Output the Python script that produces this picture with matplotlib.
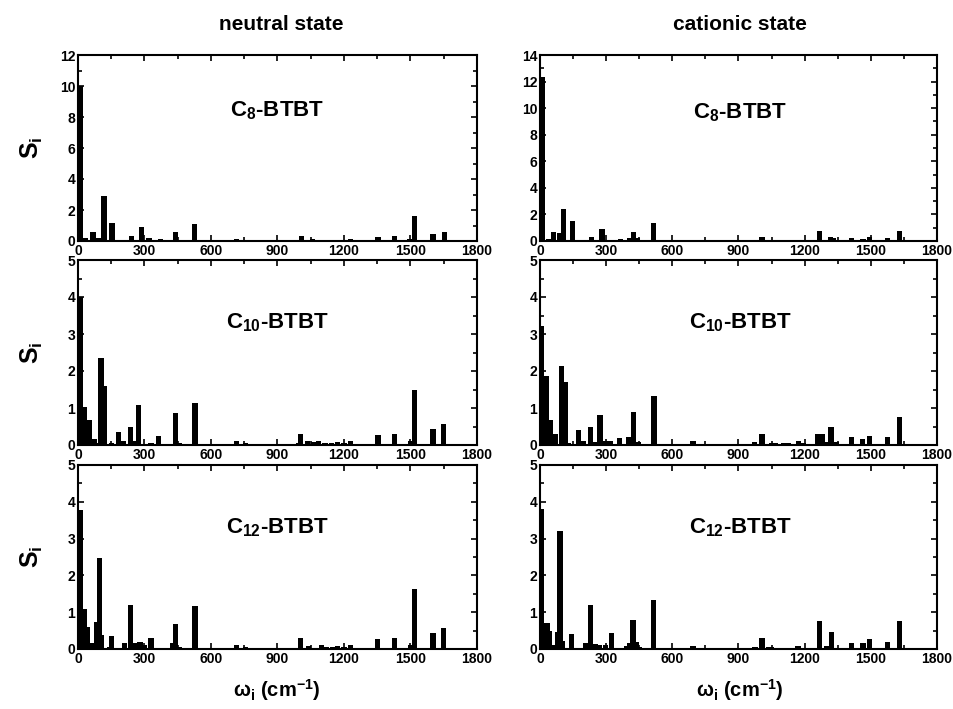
import matplotlib
matplotlib.use("Agg")
import matplotlib.pyplot as plt
from matplotlib.ticker import MultipleLocator

plt.rcParams['font.family'] = ['Liberation Sans', 'DejaVu Sans']
plt.rcParams['font.weight'] = 'bold'
plt.rcParams['mathtext.fontset'] = 'custom'
plt.rcParams['mathtext.rm'] = 'Liberation Sans:bold'
plt.rcParams['mathtext.bf'] = 'Liberation Sans:bold'
plt.rcParams['mathtext.it'] = 'Liberation Sans:bold'
plt.rcParams['mathtext.default'] = 'bf'

# ---------------- data ----------------
# C8-BTBT neutral
c8_neu_w = [12, 35, 68, 92, 117, 154, 196, 241, 286, 321, 372, 440, 527, 715,
            1008, 1058, 1145, 1170, 1229, 1354, 1429, 1495, 1518, 1602, 1652]
c8_neu_s = [10.0, 0.2, 0.55, 0.2, 2.9, 1.18, 0.05, 0.32, 0.9, 0.17, 0.13, 0.58, 1.12, 0.13,
            0.32, 0.13, 0.04, 0.04, 0.1, 0.27, 0.3, 0.1, 1.6, 0.45, 0.55]
# C8-BTBT cationic
c8_cat_w = [10, 39, 62, 90, 106, 148, 185, 232, 281, 300, 364, 405, 424, 440, 516, 700,
            990, 1006, 1045, 1120, 1170, 1268, 1290, 1316, 1330, 1412, 1465, 1495, 1575, 1630]
c8_cat_s = [12.37, 0.15, 0.65, 0.6, 2.43, 1.5, 0.05, 0.3, 0.9, 0.1, 0.12, 0.25, 0.68, 0.2, 1.33, 0.05,
            0.05, 0.3, 0.08, 0.03, 0.04, 0.78, 0.1, 0.33, 0.25, 0.22, 0.18, 0.3, 0.22, 0.75]
# C10-BTBT neutral
c10_neu_w = [12, 30, 50, 73, 85, 104, 117, 150, 184, 205, 237, 260, 274, 330, 362, 440, 455, 528,
             715, 755, 995, 1005, 1035, 1065, 1086, 1115, 1143, 1172, 1200, 1228, 1354, 1428,
             1500, 1518, 1601, 1650]
c10_neu_s = [4.0, 1.04, 0.68, 0.16, 0.05, 2.34, 1.6, 0.05, 0.34, 0.1, 0.48, 0.1, 1.08, 0.05, 0.25,
             0.87, 0.05, 1.13, 0.12, 0.05, 0.05, 0.3, 0.1, 0.07, 0.11, 0.06, 0.06, 0.08, 0.05, 0.1,
             0.26, 0.3, 0.1, 1.48, 0.43, 0.57]
# C10-BTBT cationic
c10_cat_w = [7, 27, 47, 68, 98, 113, 130, 173, 196, 230, 250, 272, 295, 318, 361, 404, 424, 445,
             517, 694, 973, 1006, 1050, 1065, 1105, 1125, 1172, 1195, 1260, 1280, 1300, 1319, 1345,
             1411, 1463, 1494, 1577, 1630]
c10_cat_s = [3.22, 1.87, 0.68, 0.3, 2.14, 1.71, 0.05, 0.4, 0.12, 0.48, 0.08, 0.81, 0.12, 0.12, 0.2,
             0.21, 0.88, 0.08, 1.32, 0.1, 0.08, 0.3, 0.05, 0.05, 0.05, 0.05, 0.1, 0.05, 0.29, 0.3,
             0.08, 0.48, 0.07, 0.21, 0.17, 0.24, 0.21, 0.75]
# C12-BTBT neutral
c12_neu_w = [12, 29, 43, 61, 83, 98, 107, 142, 151, 211, 237, 255, 279, 299, 330, 395, 429, 441,
             455, 528, 715, 755, 1005, 1040, 1100, 1120, 1147, 1170, 1200, 1228, 1352, 1428,
             1500, 1518, 1602, 1650]
c12_neu_s = [3.78, 1.08, 0.6, 0.15, 0.73, 2.47, 0.39, 0.05, 0.34, 0.16, 1.19, 0.16, 0.18, 0.1, 0.3,
             0.03, 0.16, 0.68, 0.06, 1.16, 0.12, 0.06, 0.3, 0.07, 0.1, 0.05, 0.05, 0.08, 0.05, 0.12,
             0.27, 0.3, 0.1, 1.64, 0.44, 0.56]
# C12-BTBT cationic
c12_cat_w = [7, 21, 32, 41, 54, 80, 91, 100, 143, 205, 229, 253, 268, 297, 325, 395, 408, 422, 436,
             450, 516, 694, 975, 1006, 1035, 1050, 1100, 1125, 1170, 1255, 1268, 1285, 1300, 1321,
             1340, 1412, 1465, 1495, 1577, 1630]
c12_cat_s = [3.81, 0.66, 0.7, 0.5, 0.1, 0.47, 3.21, 0.22, 0.41, 0.15, 1.19, 0.14, 0.1, 0.1, 0.43,
             0.08, 0.15, 0.79, 0.18, 0.06, 1.33, 0.08, 0.06, 0.31, 0.05, 0.05, 0.04, 0.04, 0.08, 0.04,
             0.77, 0.04, 0.08, 0.47, 0.03, 0.15, 0.16, 0.26, 0.2, 0.75]

panels = [
    (c8_neu_w, c8_neu_s, 'C$_{8}$-BTBT', 12, 2, 1, 0.70),
    (c8_cat_w, c8_cat_s, 'C$_{8}$-BTBT', 14, 2, 1, 0.69),
    (c10_neu_w, c10_neu_s, 'C$_{10}$-BTBT', 5, 1, 0.5, 0.66),
    (c10_cat_w, c10_cat_s, 'C$_{10}$-BTBT', 5, 1, 0.5, 0.66),
    (c12_neu_w, c12_neu_s, 'C$_{12}$-BTBT', 5, 1, 0.5, 0.66),
    (c12_cat_w, c12_cat_s, 'C$_{12}$-BTBT', 5, 1, 0.5, 0.66),
]
col_titles = ['neutral state', 'cationic state']
ylab = r'$S_i$'
xlab = r'ω$_{i}$ (cm$^{-1}$)'

# ---------------- layout ----------------
W, H = 954, 709
fig = plt.figure(figsize=(W / 100, H / 100), dpi=100)
lefts = [78 / W, 540 / W]
widths = [399 / W, 397 / W]
rows = [(55, 241), (260, 445), (465, 649)]

axes = []
for i, (w, s, label, ymax, ymaj, ymin, ty) in enumerate(panels):
    r, c = divmod(i, 2)
    top, bot = rows[r]
    ax = fig.add_axes([lefts[c], 1 - bot / H, widths[c], (bot - top) / H])
    ax.bar(w, s, width=24, color='black', edgecolor='none', align='center')
    ax.set_xlim(0, 1800)
    ax.set_ylim(0, ymax)
    ax.xaxis.set_major_locator(MultipleLocator(300))
    ax.xaxis.set_minor_locator(MultipleLocator(150))
    ax.yaxis.set_major_locator(MultipleLocator(ymaj))
    ax.yaxis.set_minor_locator(MultipleLocator(ymin))
    ax.tick_params(which='both', direction='in', top=True, right=True, width=1.2,
                   labelsize=10, pad=2)
    ax.tick_params(which='major', length=4)
    ax.tick_params(which='minor', length=3)
    for lab in ax.get_xticklabels() + ax.get_yticklabels():
        lab.set_fontweight('bold')
    for sp in ax.spines.values():
        sp.set_linewidth(1.5)
    ax.text(0.5 if c == 0 else 0.505, ty, label, transform=ax.transAxes,
            ha='center', va='center', fontsize=16, fontweight='bold')
    if c == 0:
        fig.text(0.033, 1 - (top + bot) / 2 / H, ylab, rotation=90, ha='center', va='center',
                 fontsize=18, fontweight='bold')
    axes.append(ax)

fig.text(281 / W, 1 - 25 / H, col_titles[0], ha='center', va='center', fontsize=15, fontweight='bold')
fig.text(740 / W, 1 - 25 / H, col_titles[1], ha='center', va='center', fontsize=15, fontweight='bold')
fig.text(277 / W, 1 - 690 / H, xlab, ha='center', va='center', fontsize=14.5, fontweight='bold')
fig.text(740 / W, 1 - 690 / H, xlab, ha='center', va='center', fontsize=14.5, fontweight='bold')

fig.savefig('out.png', dpi=100)
